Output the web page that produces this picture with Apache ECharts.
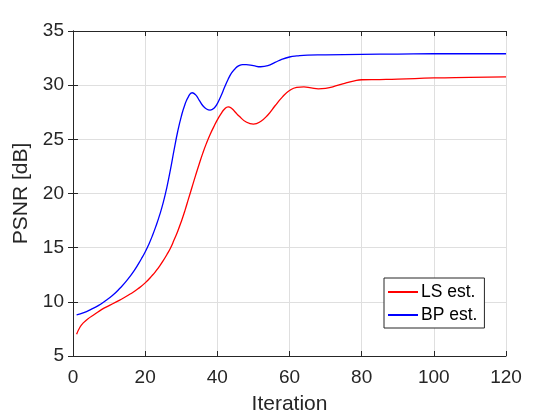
<!DOCTYPE html>
<html style="height: 100%">
<head>
    <meta charset="utf-8">
</head>
<body style="height: 100%; margin: 0; background: #fff">
<div id="container" style="width: 560px; height: 420px"></div>
<script type="text/javascript" src="https://cdn.jsdelivr.net/npm/echarts@6/dist/echarts.min.js"></script>
<script type="text/javascript">
    // iterations / PSNR
    var lsIter = [1, 2, 3, 4, 6, 8, 10, 12, 14, 16, 18, 20, 22, 23, 24, 25, 26, 27, 28, 29, 30, 31, 32, 33, 34, 35, 36, 37, 38, 39, 40, 41, 42, 43, 44, 45, 46, 48, 50, 52, 54, 56, 58, 60, 62, 64, 66, 68, 70, 72, 75, 78, 80, 85, 90, 100, 110, 120];
    var lsPsnr = [7.0, 7.7, 8.1, 8.4, 8.85, 9.3, 9.65, 10.0, 10.35, 10.75, 11.2, 11.75, 12.45, 12.85, 13.3, 13.8, 14.35, 14.95, 15.7, 16.5, 17.4, 18.4, 19.5, 20.6, 21.7, 22.75, 23.75, 24.65, 25.45, 26.15, 26.8, 27.35, 27.8, 28.0, 27.85, 27.5, 27.15, 26.6, 26.4, 26.65, 27.25, 28.1, 28.9, 29.5, 29.8, 29.85, 29.75, 29.66, 29.7, 29.85, 30.15, 30.4, 30.5, 30.52, 30.55, 30.67, 30.72, 30.77];

    var bpIter = [1, 3, 5, 7, 9, 11, 13, 15, 17, 19, 20, 21, 22, 23, 24, 25, 26, 27, 28, 29, 30, 31, 32, 33, 34, 35, 36, 37, 38, 39, 40, 41, 42, 43, 44, 45, 46, 47, 48, 50, 52, 54, 56, 58, 60, 62, 65, 70, 80, 90, 100, 120];
    var bpPsnr = [8.8, 9.0, 9.3, 9.65, 10.1, 10.6, 11.25, 12.0, 12.9, 14.0, 14.6, 15.3, 16.1, 17.0, 18.0, 19.15, 20.55, 22.2, 24.0, 25.7, 27.1, 28.2, 28.95, 29.3, 29.1, 28.6, 28.1, 27.8, 27.7, 27.85, 28.3, 29.0, 29.8, 30.55, 31.15, 31.55, 31.8, 31.9, 31.9, 31.8, 31.7, 31.8, 32.1, 32.4, 32.6, 32.7, 32.78, 32.8, 32.85, 32.87, 32.9, 32.9];

    var seriesNames = ['LS est.', 'BP est.'];
    var seriesColors = ['#ff0000', '#0000ff'];

    function pairs(xs, ys) {
        var out = [];
        for (var i = 0; i < xs.length; i++) out.push([xs[i], ys[i]]);
        return out;
    }

    var font = 'Helvetica, Arial, "Liberation Sans", sans-serif';
    var axisLine = {show: true, lineStyle: {color: '#262626', width: 1}};
    var tick = {show: true, inside: true, length: 5, lineStyle: {color: '#262626'}};

    var myChart = echarts.init(document.getElementById('container'));
    var option = {
        animation: false,
        backgroundColor: '#ffffff',
        grid: {left: 73, top: 31, right: 54, bottom: 63, containLabel: false},
        legend: {
            orient: 'vertical',
            left: 384,
            top: 278,
            padding: [5, 7, 4, 4],
            itemGap: 5,
            itemWidth: 30,
            itemHeight: 2,
            icon: 'rect',
            borderColor: '#262626',
            borderWidth: 1,
            backgroundColor: '#ffffff',
            textStyle: {fontFamily: font, fontSize: 17.5, color: '#000', padding: [0, 0, 0, -2]},
            data: seriesNames
        },
        xAxis: [{
            type: 'value', min: 0, max: 120, interval: 20,
            name: 'Iteration', nameLocation: 'middle', nameGap: 38,
            nameTextStyle: {fontFamily: font, fontSize: 21, color: '#262626'},
            axisLine: axisLine, axisTick: tick,
            axisLabel: {fontFamily: font, fontSize: 19, color: '#262626', margin: 12},
            splitLine: {show: true, lineStyle: {color: '#dfdfdf'}}
        }, {
            type: 'value', min: 0, max: 120, interval: 20, position: 'top',
            axisLine: axisLine, axisTick: tick, axisLabel: {show: false}, splitLine: {show: false}
        }],
        yAxis: [{
            type: 'value', min: 5, max: 35, interval: 5,
            name: 'PSNR [dB]', nameLocation: 'middle', nameGap: 36,
            nameTextStyle: {fontFamily: font, fontSize: 21, color: '#262626'},
            axisLine: axisLine, axisTick: tick,
            axisLabel: {fontFamily: font, fontSize: 19, color: '#262626', margin: 9},
            splitLine: {show: true, lineStyle: {color: '#dfdfdf'}}
        }, {
            type: 'value', min: 5, max: 35, interval: 5, position: 'right',
            axisLine: axisLine, axisTick: tick, axisLabel: {show: false}, splitLine: {show: false}
        }],
        series: [{
            name: seriesNames[0], type: 'line', smooth: 0.5, showSymbol: false,
            color: seriesColors[0], lineStyle: {width: 1.3},
            data: pairs(lsIter, lsPsnr)
        }, {
            name: seriesNames[1], type: 'line', smooth: 0.5, showSymbol: false,
            color: seriesColors[1], lineStyle: {width: 1.3},
            data: pairs(bpIter, bpPsnr)
        }]
    };
    myChart.setOption(option);
</script>
</body>
</html>
